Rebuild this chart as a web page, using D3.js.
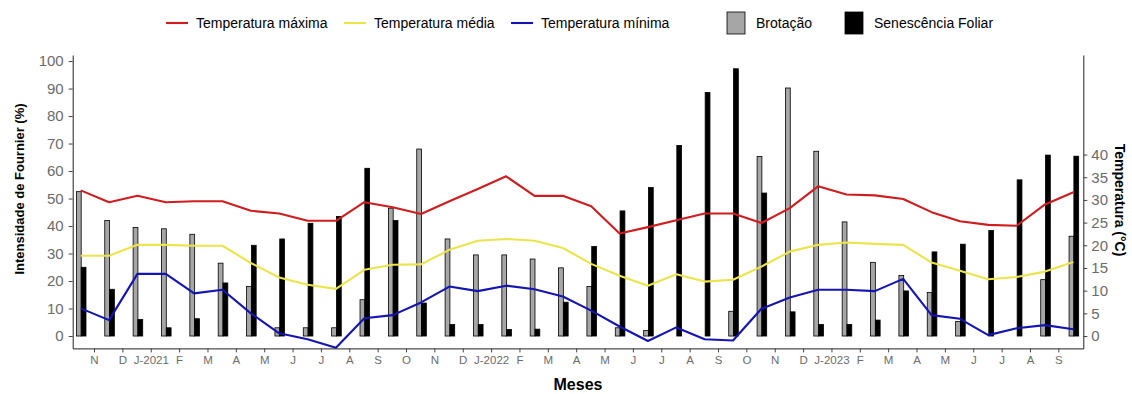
<!DOCTYPE html>
<html>
<head>
<meta charset="utf-8">
<script src="https://cdn.jsdelivr.net/npm/d3@7"></script>
<style>
  html, body { margin: 0; padding: 0; background: #fff; }
  svg { display: block; font-family: "Liberation Sans", Arial, sans-serif; }
</style>
</head>
<body>
<svg id="chart" width="1132" height="394"></svg>
<script>
// Monthly series, Oct 2020 – Sep 2023
const months = ["2020-10","2020-11","2020-12","2021-01","2021-02","2021-03","2021-04","2021-05","2021-06",
  "2021-07","2021-08","2021-09","2021-10","2021-11","2021-12","2022-01","2022-02","2022-03","2022-04",
  "2022-05","2022-06","2022-07","2022-08","2022-09","2022-10","2022-11","2022-12","2023-01","2023-02",
  "2023-03","2023-04","2023-05","2023-06","2023-07","2023-08","2023-09"];

// Fournier intensity (%)
const brotacao = [52.5,42,39.5,39,37,26.5,18,3,3,3,13.2,46.5,68,35.3,29.5,29.5,28,24.8,18,3,2,0,0,9,
  65.3,90.2,67.2,41.5,26.8,22,15.8,5.3,0,0,20.5,36.3];
const senescencia = [25,17,6,3,6.3,19.3,33,35.3,41,43.5,61,42,12,4.2,4.2,2.4,2.5,12.3,32.6,45.5,54,69.3,
  88.6,97.2,52,8.8,4.2,4.2,5.8,16.4,30.6,33.4,38.4,56.8,65.8,65.4];

// Temperatures (°C)
const tMax = [32.1,29.5,30.9,29.5,29.7,29.7,27.6,27,25.4,25.4,29.5,28.4,26.9,29.7,32.4,35.2,30.9,30.9,
  28.6,22.6,24,25.5,27,27,24.9,28.2,33,31.2,31,30.2,27.3,25.3,24.5,24.3,29,31.7];
const tMed = [17.7,17.7,20.1,20.1,19.9,19.9,16.1,12.9,11.3,10.4,14.6,15.7,15.8,19,21,21.4,21,19.4,15.9,
  13.3,11.1,13.6,12,12.4,15.3,18.6,20.1,20.6,20.3,20.1,16.2,14.4,12.5,13,14.2,16.3];
const tMin = [6.1,3.5,13.7,13.7,9.4,10.2,5,0.6,-0.7,-2.6,3.9,4.6,7.4,10.9,9.9,11.1,10.3,8.7,5.6,2.1,
  -1.1,1.9,-0.7,-1,6,8.5,10.2,10.2,9.9,12.6,4.6,3.8,0.2,1.7,2.4,1.5];

// Axis tick labels
const monthLabels = ["N","D","J-2021","F","M","A","M","J","J","A","S","O","N","D","J-2022","F","M","A",
  "M","J","J","A","S","O","N","D","J-2023","F","M","A","M","J","J","A","S"];
const leftTicks = [0,10,20,30,40,50,60,70,80,90,100];
const rightTicks = [0,5,10,15,20,25,30,35,40];

const barNames = ["Brotação", "Senescência Foliar"];
const lineNames = ["Temperatura máxima", "Temperatura média", "Temperatura mínima"];

const colors = {
  "Temperatura máxima": "#D01C1F",
  "Temperatura média": "#EBE44A",
  "Temperatura mínima": "#1414B4",
  "Brotação": "#A6A6A6",
  "Senescência Foliar": "#000000"
};

const svg = d3.select("#chart");
const panel = { left: 72.7, right: 1083.3, top: 55, bottom: 348.4 };
const tempFactor = 1.65; // secondary axis: °C × factor on the primary scale

const x = d3.scaleLinear().domain([-0.282, 35.35]).range([panel.left, panel.right]);
const yL = d3.scaleLinear().domain([-4.5, 102.2]).range([panel.bottom, panel.top]);
const yR = d3.scaleLinear().domain(yL.domain().map(v => v / tempFactor)).range([panel.bottom, panel.top]);

const sub = d3.scaleBand().domain(barNames).range([-4.3, 5.3]);

const tickGrey = "#6b6b6b";

// Bars
const barData = [];
months.forEach((m, i) => {
  barData.push({ i, key: "Brotação", v: brotacao[i] });
  barData.push({ i, key: "Senescência Foliar", v: senescencia[i] });
});

svg.append("g").selectAll("rect")
  .data(barData.filter(d => d.v > 0))
  .join("rect")
  .attr("x", d => x(d.i) + sub(d.key))
  .attr("width", sub.bandwidth())
  .attr("y", d => yL(d.v))
  .attr("height", d => yL(0) - yL(d.v))
  .attr("fill", d => colors[d.key])
  .attr("stroke", "#000")
  .attr("stroke-width", 0.8);

// Temperature lines
const series = [
  { name: "Temperatura máxima", values: tMax },
  { name: "Temperatura média", values: tMed },
  { name: "Temperatura mínima", values: tMin }
];
const line = d3.line().x((d, i) => x(i)).y(d => yR(d));
svg.append("g").selectAll("path")
  .data(series)
  .join("path")
  .attr("d", d => line(d.values))
  .attr("fill", "none")
  .attr("stroke", d => colors[d.name])
  .attr("stroke-width", 2.1)
  .attr("stroke-linejoin", "round");

// Axes
function styleAxis(g, size) {
  g.select(".domain").attr("stroke", "#222").attr("stroke-width", 1);
  g.selectAll(".tick line").attr("stroke", "#444");
  g.selectAll(".tick text").attr("fill", tickGrey).style("font-size", size + "px")
    .style("font-family", "'Liberation Sans', Arial, sans-serif");
}

svg.append("g")
  .attr("transform", `translate(${panel.left},0)`)
  .call(d3.axisLeft(yL).tickValues(leftTicks).tickSize(4).tickSizeOuter(0).tickPadding(5))
  .call(g => styleAxis(g, 15));

svg.append("g")
  .attr("transform", `translate(${panel.right},0)`)
  .call(d3.axisRight(yR).tickValues(rightTicks).tickSize(4).tickSizeOuter(0).tickPadding(4))
  .call(g => styleAxis(g, 15));

svg.append("g")
  .attr("transform", `translate(0,${panel.bottom})`)
  .call(d3.axisBottom(x)
    .tickValues(monthLabels.map((_, i) => i + 0.47))
    .tickFormat((d, i) => monthLabels[i])
    .tickSize(4).tickSizeOuter(0).tickPadding(3))
  .call(g => styleAxis(g, 11.5));

// Axis titles
svg.append("text")
  .attr("x", (panel.left + panel.right) / 2)
  .attr("y", 390)
  .attr("text-anchor", "middle")
  .style("font-weight", "bold").style("font-size", "16px")
  .text("Meses");

svg.append("text")
  .attr("transform", `translate(24,189) rotate(-90)`)
  .attr("text-anchor", "middle")
  .style("font-weight", "bold").style("font-size", "13px")
  .text("Intensidade de Fournier (%)");

svg.append("text")
  .attr("transform", `translate(1115,200) rotate(90)`)
  .attr("text-anchor", "middle")
  .style("font-weight", "bold").style("font-size", "14px")
  .text("Temperatura (°C)");

// Legend
const legend = svg.append("g").style("font-size", "14px");
const lineKeys = [
  { name: "Temperatura máxima", x: 166 },
  { name: "Temperatura média", x: 344 },
  { name: "Temperatura mínima", x: 511 }
];
lineKeys.forEach(k => {
  legend.append("line")
    .attr("x1", k.x).attr("x2", k.x + 22).attr("y1", 23).attr("y2", 23)
    .attr("stroke", colors[k.name]).attr("stroke-width", 2.1);
  legend.append("text").attr("x", k.x + 30).attr("y", 28).text(k.name);
});
const boxKeys = [
  { name: "Brotação", x: 727 },
  { name: "Senescência Foliar", x: 845 }
];
boxKeys.forEach(k => {
  legend.append("rect")
    .attr("x", k.x).attr("y", 12).attr("width", 18).attr("height", 22)
    .attr("fill", colors[k.name]).attr("stroke", "#000").attr("stroke-width", 0.8);
  legend.append("text").attr("x", k.x + 29).attr("y", 28).text(k.name);
});
</script>
</body>
</html>
